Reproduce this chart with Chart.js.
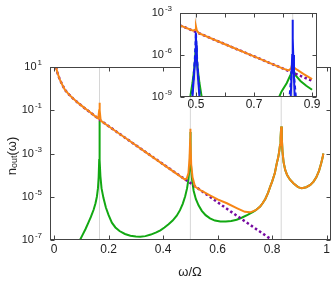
<!DOCTYPE html>
<html>
<head>
<meta charset="utf-8">
<script src="https://cdn.jsdelivr.net/npm/chart.js@4.4.1/dist/chart.umd.min.js"></script>
<style>
  html, body { margin: 0; padding: 0; background: #fff; }
  #wrap { position: relative; width: 332px; height: 281px; }
  #main { position: absolute; left: 0; top: 0; }
  #inset { position: absolute; left: 130px; top: 0; }
</style>
</head>
<body>
<div id="wrap">
  <canvas id="main" width="332" height="281"></canvas>
  <canvas id="inset" width="200" height="115"></canvas>
</div>
<script>
// main panel: n_out(w) vs w/Omega
const orangeHeadX = [0.007, 0.012, 0.02, 0.03, 0.04, 0.055, 0.07, 0.088, 0.11, 0.13, 0.15, 0.162, 0.1655, 0.1667, 0.1678, 0.171, 0.2, 0.3, 0.35, 0.4, 0.45, 0.48, 0.487, 0.493, 0.497, 0.4995, 0.5, 0.5005, 0.503, 0.508, 0.517, 0.54, 0.57, 0.6, 0.634, 0.67, 0.7, 0.72];
const orangeHeadY = [10, 5.62, 2.82, 1.51, 0.871, 0.525, 0.347, 0.219, 0.132, 0.0851, 0.0537, 0.0417, 0.1, 0.224, 0.1, 0.0331, 0.0182, 2.4e-3, 8.7e-4, 3.16e-4, 1.15e-4, 6.3e-5, 7.1e-5, 1.26e-4, 6.3e-4, 5.0e-3, 0.0141, 3.98e-3, 3.16e-4, 7.9e-5, 2.95e-5, 1.9e-5, 1.2e-5, 7.6e-6, 5.0e-6, 3.0e-6, 2.0e-6, 1.9e-6];

// part where green and orange coincide
const tailX = [0.74, 0.756, 0.765, 0.775, 0.785, 0.793, 0.8, 0.81, 0.817, 0.822, 0.826, 0.829, 0.831, 0.8333, 0.8356, 0.838, 0.842, 0.848, 0.855, 0.865, 0.878, 0.895, 0.909, 0.925, 0.94, 0.952, 0.962, 0.972, 0.98, 0.985, 0.988];
const tailY = [2.4e-6, 3.5e-6, 5.0e-6, 7.9e-6, 1.51e-5, 2.95e-5, 5.0e-5, 1.26e-4, 3.5e-4, 6.3e-4, 1.26e-3, 2.5e-3, 5.0e-3, 0.0178, 5.0e-3, 1.26e-3, 4.0e-4, 1.74e-4, 1.0e-4, 6.3e-5, 4.2e-5, 2.8e-5, 2.45e-5, 2.75e-5, 3.5e-5, 5.0e-5, 7.9e-5, 1.58e-4, 3.5e-4, 6.3e-4, 1.0e-3];

const greenHeadX = [0.095, 0.105, 0.115, 0.125, 0.135, 0.145, 0.152, 0.157, 0.161, 0.1635, 0.1655, 0.1662, 0.1667, 0.1672, 0.168, 0.17, 0.174, 0.181, 0.19, 0.2, 0.212, 0.225, 0.24, 0.26, 0.28, 0.3, 0.316, 0.335, 0.355, 0.375, 0.39, 0.405, 0.42, 0.435, 0.45, 0.462, 0.472, 0.481, 0.488, 0.493, 0.4965, 0.4985, 0.4995, 0.5, 0.5005, 0.5015, 0.5035, 0.507, 0.512, 0.52, 0.53, 0.542, 0.556, 0.572, 0.59, 0.61, 0.63, 0.65, 0.67, 0.69, 0.71, 0.73];
const greenHeadY = [1.0e-7, 1.78e-7, 3.16e-7, 6.0e-7, 1.17e-6, 2.5e-6, 5.0e-6, 1.0e-5, 2.5e-5, 7.9e-5, 5.0e-4, 2.5e-3, 0.0316, 2.5e-3, 5.0e-4, 8.9e-5, 2.5e-5, 8.9e-6, 3.16e-6, 1.41e-6, 6.3e-7, 3.8e-7, 2.6e-7, 1.9e-7, 1.58e-7, 1.45e-7, 1.41e-7, 1.51e-7, 1.78e-7, 2.24e-7, 2.8e-7, 3.8e-7, 5.4e-7, 7.9e-7, 1.32e-6, 2.4e-6, 4.7e-6, 1.05e-5, 2.5e-5, 6.3e-5, 2.0e-4, 7.9e-4, 3.16e-3, 0.01, 2.5e-3, 6.3e-4, 1.58e-4, 5.0e-5, 1.9e-5, 7.9e-6, 4.0e-6, 2.24e-6, 1.41e-6, 1.0e-6, 7.9e-7, 7.1e-7, 7.1e-7, 7.6e-7, 8.7e-7, 1.1e-6, 1.45e-6, 2.0e-6];

const purpleX = [0.007, 0.012, 0.02, 0.03, 0.04, 0.055, 0.07, 0.088, 0.11, 0.13, 0.15, 0.171, 0.3, 0.5, 0.65, 0.8];
const purpleY = [10, 5.62, 2.82, 1.51, 0.871, 0.525, 0.347, 0.219, 0.132, 0.0851, 0.0537, 0.0331, 2.4e-3, 4.3e-5, 2.0e-6, 1.0e-7];

const resonances = [0.1667, 0.5, 0.8333];
const mainXTicks = [0, 0.2, 0.4, 0.6, 0.8, 1];
const mainXLabels = ['0', '0.2', '0.4', '0.6', '0.8', '1'];
const mainYExps = [1, -1, -3, -5, -7];

// inset panel
const inOrangeX = [0.445, 0.49, 0.497, 0.5, 0.503, 0.51, 0.6, 0.7, 0.8, 0.82, 0.828, 0.8333, 0.838, 0.848, 0.87, 0.9];
const inOrangeY = [1.32e-4, 5.4e-5, 6.3e-5, 1.07e-4, 5.6e-5, 3.6e-5, 5.9e-6, 7.9e-7, 1.07e-7, 7.9e-8, 1.12e-7, 3.16e-7, 1.26e-7, 8.9e-8, 4.5e-8, 1.9e-8];
const inPurpleX = [0.445, 0.9];
const inPurpleY = [1.32e-4, 1.45e-8];
const inBlueAX = [0.487, 0.493, 0.497, 0.499, 0.5, 0.501, 0.503, 0.507, 0.513];
const inBlueAY = [5e-10, 2.5e-8, 5.0e-7, 5.0e-6, 4.0e-5, 5.0e-6, 5.0e-7, 2.5e-8, 5e-10];
const inBlueBX = [0.826, 0.829, 0.8315, 0.8327, 0.8333, 0.834, 0.8352, 0.8377, 0.8407];
const inBlueBY = [5e-10, 2.5e-8, 1e-6, 1.58e-5, 3.3e-4, 1.58e-5, 1e-6, 2.5e-8, 5e-10];
const inDashAX = [0.485, 0.491, 0.496, 0.4985, 0.5, 0.5015, 0.504, 0.509, 0.515];
const inDashAY = [5e-10, 1.6e-8, 5e-7, 6.3e-6, 4.0e-5, 6.3e-6, 5e-7, 1.6e-8, 5e-10];
const inDashBX = [0.821, 0.829, 0.8315, 0.8333, 0.835, 0.8375, 0.8455];
const inDashBY = [5e-10, 4e-8, 1.26e-7, 3.16e-7, 1.26e-7, 4e-8, 5e-10];
const inGreenAX = [0.478, 0.488, 0.495, 0.499, 0.5, 0.501, 0.505, 0.512, 0.522];
const inGreenAY = [5e-10, 1e-8, 1.58e-7, 2.5e-6, 1.58e-5, 2.5e-6, 1.58e-7, 1e-8, 5e-10];
const inGreenBX = [0.78, 0.795, 0.813, 0.826, 0.831, 0.8333, 0.836, 0.845, 0.86, 0.88, 0.9];
const inGreenBY = [5e-10, 2.5e-9, 1e-8, 4e-8, 7.9e-8, 1.58e-7, 7.9e-8, 3.16e-8, 1.41e-8, 6.3e-9, 3.3e-9];
const insetXTicks = [0.5, 0.6, 0.7, 0.8, 0.9];
const insetXLabels = { 0.5: '0.5', 0.7: '0.7', 0.9: '0.9' };
const insetYExps = [-3, -6, -9];

const FONT = '"Liberation Sans", Arial, sans-serif';
const ORANGE = 'rgb(247,134,22)';
const GREEN = 'rgb(18,168,18)';
const PURPLE = 'rgb(118,10,160)';
const BLUE = 'rgb(20,30,235)';
const VGRAY = 'rgb(214,214,214)';
const AXIS = '#444';

function pts(xs, ys) {
    return xs.map((x, i) => ({ x: x, y: ys[i] }));
}

function vlines(lo, hi) {
    return resonances.map(r => ({
        data: [{ x: r, y: lo }, { x: r, y: hi }],
        borderColor: VGRAY, borderWidth: 1
    }));
}

// 10 with a superscript exponent, right aligned at xr
function powLabel(ctx, exp, xr, y, size, expSize) {
    const e = String(exp);
    ctx.textBaseline = 'middle';
    ctx.textAlign = 'left';
    ctx.font = expSize + 'px ' + FONT;
    const ew = ctx.measureText(e).width;
    ctx.font = size + 'px ' + FONT;
    const bw = ctx.measureText('10').width;
    ctx.fillText('10', xr - ew - bw - 1, y);
    ctx.font = expSize + 'px ' + FONT;
    ctx.fillText(e, xr - ew, y - 4);
}

// white background, frame, inward ticks and labels
function framePlugin(cfg) {
    return {
        id: 'frame',
        beforeDraw(chart) {
            const ctx = chart.ctx, a = chart.chartArea;
            ctx.save();
            ctx.fillStyle = '#fff';
            if (cfg.fillAll) ctx.fillRect(0, 0, chart.width, chart.height);
            else ctx.fillRect(a.left, a.top, a.right - a.left, a.bottom - a.top);
            ctx.restore();
        },
        afterDraw(chart) {
            const ctx = chart.ctx, a = chart.chartArea;
            const xs = chart.scales.x, ys = chart.scales.y;
            const L = Math.round(a.left) + 0.5, R = Math.round(a.right) - 0.5;
            const T = Math.round(a.top) + 0.5, B = Math.round(a.bottom) - 0.5;
            ctx.save();
            ctx.strokeStyle = AXIS;
            ctx.lineWidth = 1;
            ctx.strokeRect(L, T, R - L, B - T);
            ctx.beginPath();
            cfg.xTicks.forEach(v => {
                const px = Math.round(xs.getPixelForValue(v)) + 0.5;
                ctx.moveTo(px, B); ctx.lineTo(px, B - 4);
                ctx.moveTo(px, T); ctx.lineTo(px, T + 4);
            });
            cfg.yExps.forEach(e => {
                const py = Math.round(ys.getPixelForValue(Math.pow(10, e))) + 0.5;
                ctx.moveTo(L, py); ctx.lineTo(L + 4, py);
                ctx.moveTo(R, py); ctx.lineTo(R - 4, py);
            });
            ctx.stroke();

            ctx.fillStyle = '#222';
            ctx.font = cfg.xFont + 'px ' + FONT;
            ctx.textAlign = 'center';
            ctx.textBaseline = 'middle';
            cfg.xTicks.forEach((v, i) => {
                const lab = cfg.xLabel(v, i);
                if (lab) ctx.fillText(lab, xs.getPixelForValue(v), a.bottom + cfg.xLabelGap);
            });
            cfg.yExps.forEach(e => {
                powLabel(ctx, e, a.left - cfg.yLabelGap, ys.getPixelForValue(Math.pow(10, e)), cfg.yFont, cfg.yExpFont);
            });
            if (cfg.titles) cfg.titles(ctx, a);
            ctx.restore();
        }
    };
}

function drawTitles(ctx, a) {
    ctx.fillStyle = '#222';
    ctx.textAlign = 'center';
    ctx.textBaseline = 'middle';
    ctx.font = '13px ' + FONT;
    ctx.fillText('ω/Ω', 190, 272);

    // rotated y title n_out(w)
    ctx.save();
    ctx.translate(12, 156);
    ctx.rotate(-Math.PI / 2);
    ctx.textAlign = 'left';
    ctx.font = '13px ' + FONT;
    const w1 = ctx.measureText('n').width;
    const w3 = ctx.measureText('(ω)').width;
    ctx.font = '9px ' + FONT;
    const w2 = ctx.measureText('out').width;
    let x0 = -(w1 + w2 + w3) / 2;
    ctx.font = '13px ' + FONT;
    ctx.fillText('n', x0, 0);
    ctx.font = '9px ' + FONT;
    ctx.fillText('out', x0 + w1, 3);
    ctx.font = '13px ' + FONT;
    ctx.fillText('(ω)', x0 + w1 + w2, 0);
    ctx.restore();
}

const baseOptions = (xmin, xmax, ymin, ymax, pad, xh, yw) => ({
    responsive: false,
    animation: false,
    devicePixelRatio: 1,
    layout: { padding: pad },
    plugins: { legend: { display: false }, tooltip: { enabled: false } },
    elements: { point: { radius: 0 }, line: { tension: 0 } },
    scales: {
        x: {
            type: 'linear', min: xmin, max: xmax,
            grid: { display: false }, border: { display: false }, ticks: { display: false },
            afterFit(s) { s.height = xh; }
        },
        y: {
            type: 'logarithmic', min: ymin, max: ymax,
            grid: { display: false }, border: { display: false }, ticks: { display: false },
            afterFit(s) { s.width = yw; }
        }
    }
});

new Chart(document.getElementById('main'), {
    type: 'line',
    data: {
        datasets: [
            { data: pts(orangeHeadX.concat(tailX), orangeHeadY.concat(tailY)), borderColor: ORANGE, borderWidth: 2 },
            { data: pts(purpleX, purpleY), borderColor: PURPLE, borderWidth: 2.5, borderDash: [2.5, 2.5] },
            { data: pts(greenHeadX.concat(tailX), greenHeadY.concat(tailY)), borderColor: GREEN, borderWidth: 2 }
        ].concat(vlines(1e-7, 10))
    },
    options: baseOptions(-0.015, 1.016, 1e-7, 10, { top: 67, right: 1, left: 0, bottom: 0 }, 41, 50),
    plugins: [framePlugin({
        fillAll: true,
        xTicks: mainXTicks, xLabel: (v, i) => mainXLabels[i], xFont: 12, xLabelGap: 10,
        yExps: mainYExps, yFont: 11, yExpFont: 8, yLabelGap: 8,
        titles: drawTitles
    })]
});

new Chart(document.getElementById('inset'), {
    type: 'line',
    data: {
        datasets: [
            { data: pts(inBlueAX, inBlueAY), borderColor: BLUE, borderWidth: 2 },
            { data: pts(inBlueBX, inBlueBY), borderColor: BLUE, borderWidth: 2 },
            { data: pts(inDashAX, inDashAY), borderColor: BLUE, borderWidth: 2, borderDash: [4, 3] },
            { data: pts(inDashBX, inDashBY), borderColor: BLUE, borderWidth: 2, borderDash: [4, 3] },
            { data: pts(inOrangeX, inOrangeY), borderColor: ORANGE, borderWidth: 2 },
            { data: pts(inPurpleX, inPurpleY), borderColor: PURPLE, borderWidth: 2.5, borderDash: [2.5, 2.5] },
            { data: pts(inGreenAX, inGreenAY), borderColor: GREEN, borderWidth: 2 },
            { data: pts(inGreenBX, inGreenBY), borderColor: GREEN, borderWidth: 2 }
        ].concat(vlines(1e-9, 1e-3))
    },
    options: baseOptions(0.445, 0.917, 1e-9, 1e-3, { top: 13, right: 13, left: 0, bottom: 0 }, 18, 50),
    plugins: [framePlugin({
        fillAll: false,
        xTicks: insetXTicks, xLabel: v => insetXLabels[v] || '', xFont: 12, xLabelGap: 8,
        yExps: insetYExps, yFont: 11, yExpFont: 8, yLabelGap: 8
    })]
});
</script>
</body>
</html>
